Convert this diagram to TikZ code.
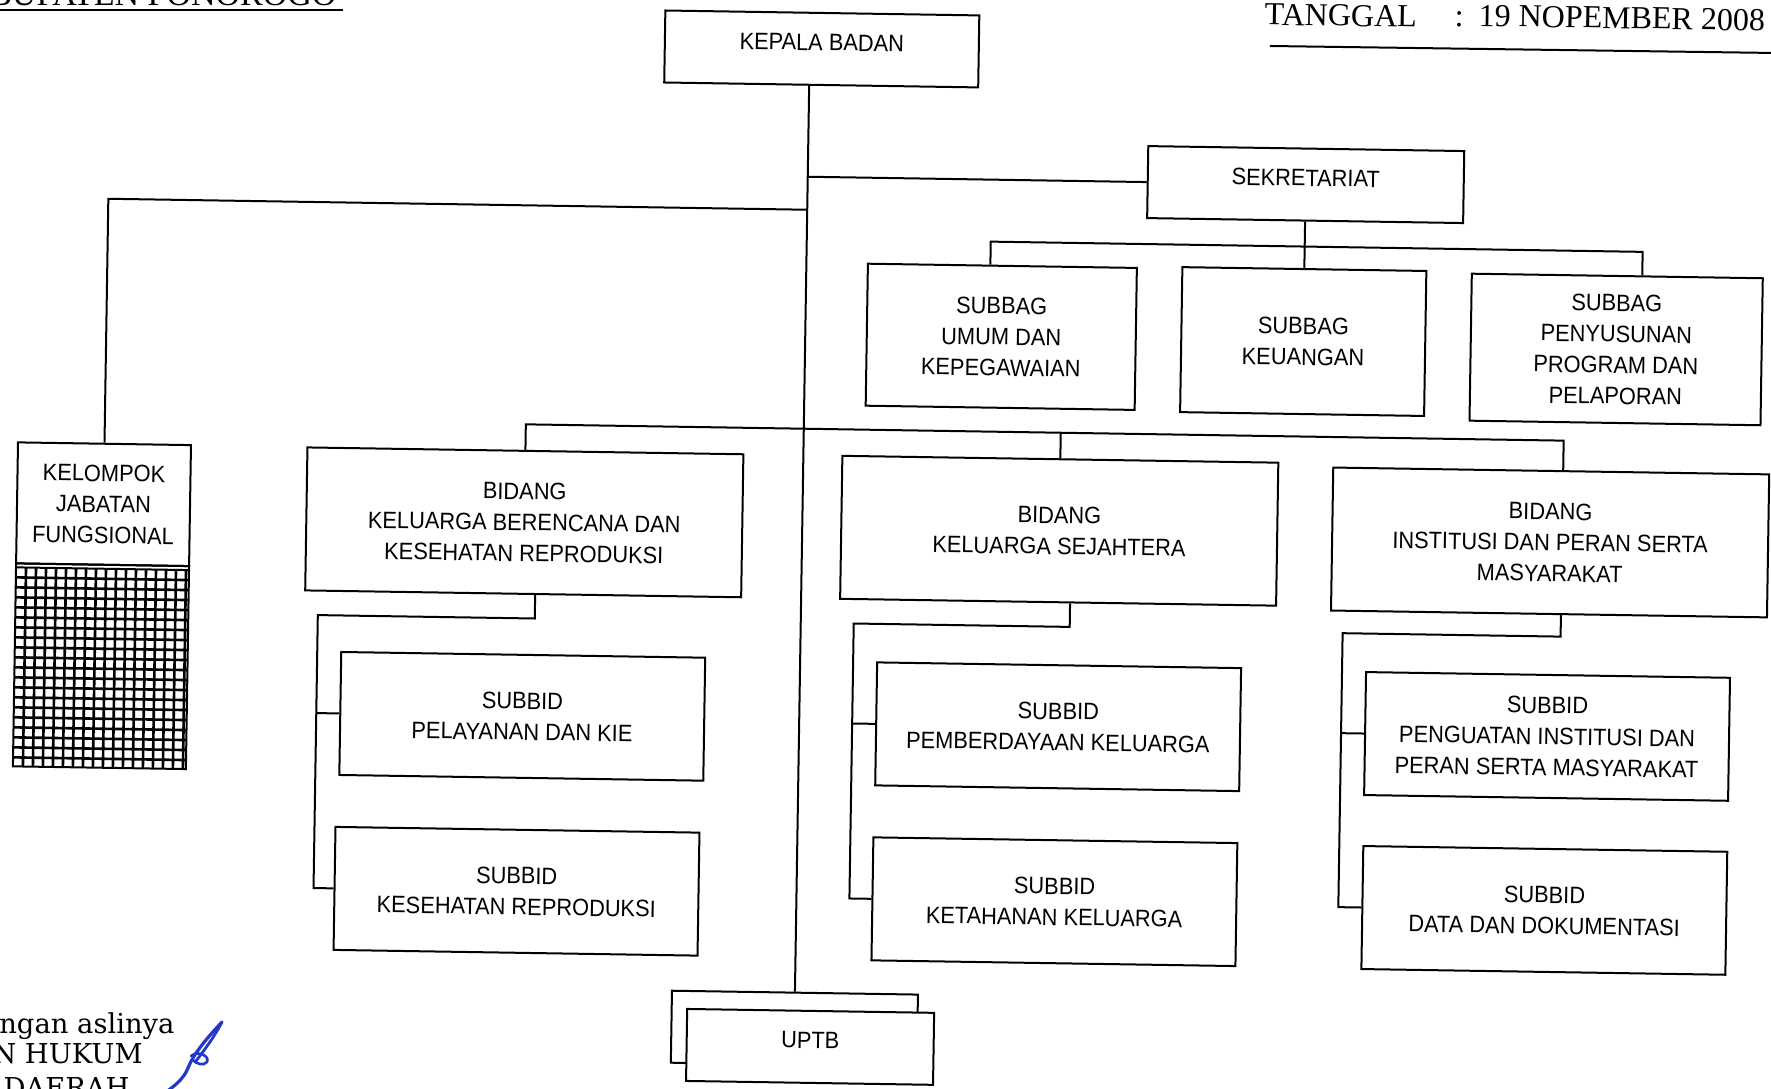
\documentclass[tikz,border=0pt]{standalone}
\usepackage{fontspec}
\setmainfont{Liberation Serif}
\newfontfamily\boxfont{Liberation Sans}[FakeStretch=0.92]
\newfontfamily\timesfont{Liberation Serif}
\newfontfamily\bookfont{DejaVu Serif}
\definecolor{sigblue}{RGB}{35,55,200}
\begin{document}
\begin{tikzpicture}[x=0.5pt,y=-0.5pt,
  box/.style={draw, line width=1pt, align=center, inner sep=0pt,
    font=\boxfont\fontsize{11.85pt}{15.5pt}\selectfont},
  onebox/.style={box, text height=8.5pt, text depth=7pt},
  bidang/.style={box, minimum width=218pt, minimum height=71.5pt},
  subbid/.style={box, minimum width=182pt, minimum height=61.5pt},
  conn/.style={line width=1pt},
  gridl/.style={line width=1.3pt},
  hdr/.style={anchor=base west, inner sep=0pt, font=\timesfont\fontsize{16pt}{19pt}\selectfont},
  foot/.style={anchor=base east, inner sep=0pt, font=\bookfont\fontsize{13.7pt}{16pt}\selectfont},
]
\useasboundingbox (0,0) rectangle (1771,1088);
\clip (0,0) rectangle (1771,1088);
\fill[white] (0,0) rectangle (1771,1088);

% unrotated page remnants
\node[anchor=base east, inner sep=0pt, font=\timesfont\fontsize{17pt}{20pt}\selectfont] (kab) at (337,5) {BUPATEN PONOROGO};
\draw[line width=1pt] (0,10) -- (343,10);
\node[foot] (f1) at (175,1033) {ngan aslinya};
\node[foot] (f2) at (143,1063) {N HUKUM};
\node[foot] (f3) at (130,1097) {DAERAH};
\draw[sigblue, line width=1.6pt, line cap=round]
  (222,1022) .. controls (205,1040) and (193,1055) .. (188,1068)
  .. controls (184,1078) and (176,1085) .. (166,1092);
\draw[sigblue, line width=1.4pt, line cap=round]
  (222,1022) .. controls (216,1034) and (206,1048) .. (196,1061);
\draw[sigblue, line width=1.3pt, line cap=round]
  (191,1056) .. controls (198,1050) and (210,1056) .. (207,1062)
  .. controls (204,1066) and (196,1064) .. (193,1060);

\begin{scope}[rotate around={-0.9:(885,544)}, transform shape]
% header right
\node[hdr] (tgl) at (1256,19) {TANGGAL};
\node[hdr] (colon) at (1446,18) {:};
\node[hdr] (date) at (1470,17) {19 NOPEMBER 2008};
\draw[line width=1pt] (1262,40) -- (1800,39);

% boxes
\node[onebox, minimum width=157pt, minimum height=36pt] (kepala) at (814,50) {KEPALA BADAN};
\node[onebox, minimum width=158pt, minimum height=36pt] (sek) at (1300,178) {SEKRETARIAT};
\node[box, minimum width=134.5pt, minimum height=71pt] (umum) at (998,335) {SUBBAG\\UMUM DAN\\KEPEGAWAIAN};
\node[box, minimum width=122pt, minimum height=72.5pt] (keu) at (1300,335) {SUBBAG\\KEUANGAN};
\node[box, minimum width=145.5pt, minimum height=73.5pt] (peny) at (1613,338) {SUBBAG\\PENYUSUNAN\\PROGRAM DAN\\PELAPORAN};

\node[box, minimum width=86.5pt, minimum height=60.5pt] (kel) at (103,516.5) {KELOMPOK\\JABATAN\\FUNGSIONAL};
\draw[line width=1pt] (16.5,577) rectangle (189.5,780);
\draw[line width=1pt] (16.5,581) -- (189.5,581);
\foreach \k in {0,...,16} \draw[gridl] (26.5+10*\k,581) -- (26.5+10*\k,780);
\foreach \k in {1,...,19} \draw[gridl] (16.5,581+10*\k) -- (189.5,581+10*\k);

\node[bidang] (bkb) at (524,528) {BIDANG\\KELUARGA BERENCANA DAN\\KESEHATAN REPRODUKSI};
\node[bidang] (bks) at (1059,528) {BIDANG\\KELUARGA SEJAHTERA};
\node[bidang] (bins) at (1550,532) {BIDANG\\INSTITUSI DAN PERAN SERTA\\MASYARAKAT};

\node[subbid] (pel) at (525,722) {SUBBID\\PELAYANAN DAN KIE};
\node[subbid] (kes) at (522,897) {SUBBID\\KESEHATAN REPRODUKSI};
\node[subbid] (pem) at (1061,724) {SUBBID\\PEMBERDAYAAN KELUARGA};
\node[subbid] (ket) at (1060,899) {SUBBID\\KETAHANAN KELUARGA};
\node[subbid] (peng) at (1550,726) {SUBBID\\PENGUATAN INSTITUSI DAN\\PERAN SERTA MASYARAKAT};
\node[subbid] (data) at (1550,900) {SUBBID\\DATA DAN DOKUMENTASI};

\node[box, minimum width=123pt, minimum height=36pt] (uptbb) at (802,1030) {};
\node[onebox, fill=white, minimum width=123.5pt, minimum height=36pt] (uptb) at (818,1048) {UPTB};

% connectors
\draw[conn] (kepala.south -| uptbb.north) -- (uptbb.north);
\coordinate (jsek) at (sek.west -| uptbb.north);
\draw[conn] (jsek) -- (sek.west);
\coordinate (jkel) at (802,211);
\draw[conn] (jkel) -| (kel.north);
\coordinate (sbus) at (1300,240);
\draw[conn] (sek.south) -- (keu.north);
\draw[conn] ([xshift=-6pt]umum.north) |- (sbus) -| ([xshift=12.5pt]peny.north);
\coordinate (bbus) at (802,430);
\draw[conn] (bkb.north) |- (bbus) -| ([xshift=6pt]bins.north);
\draw[conn] (bks.north) -- (bks.north |- bbus);

\coordinate (kbv) at (319,624);
\draw[conn] ([xshift=6pt]bkb.south) |- (kbv) |- (kes.west);
\draw[conn] (kbv |- pel.west) -- (pel.west);
\coordinate (ksv) at (855,624);
\draw[conn] ([xshift=6pt]bks.south) |- (ksv) |- (ket.west);
\draw[conn] (ksv |- pem.west) -- (pem.west);
\coordinate (insv) at (1344,626);
\draw[conn] ([xshift=6pt]bins.south) |- (insv) |- (data.west);
\draw[conn] (insv |- peng.west) -- (peng.west);
\end{scope}
\end{tikzpicture}
\end{document}
